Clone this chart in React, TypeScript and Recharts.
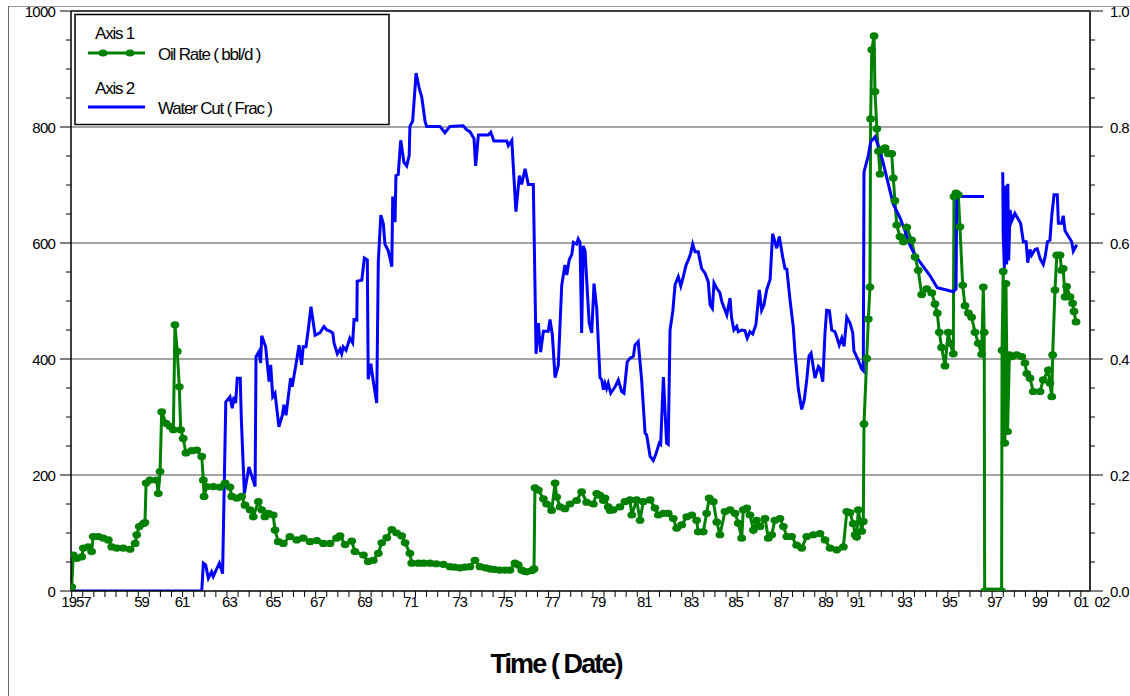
import React from 'react';
import { ComposedChart, Line, XAxis, YAxis, ReferenceLine } from 'recharts';

const FONT = '"Liberation Sans", Arial, sans-serif';

// Oil rate (bbl/d), left axis
const OIL_YEAR = [
  1957.03, 1957.10, 1957.25, 1957.47, 1957.54, 1957.76, 1957.90, 1957.97, 1958.19, 1958.41,
  1958.63, 1958.78, 1959.00, 1959.28, 1959.58, 1959.80, 1959.87, 1959.98, 1960.16, 1960.23,
  1960.28, 1960.45, 1960.74, 1960.81, 1960.89, 1960.96, 1961.15, 1961.32, 1961.47, 1961.54,
  1961.64, 1961.73, 1961.79, 1961.90, 1962.02, 1962.27, 1962.49, 1962.71, 1962.78, 1962.81,
  1962.93, 1963.21, 1963.51, 1963.73, 1963.94, 1964.02, 1964.24, 1964.45, 1964.60, 1964.82,
  1964.96, 1965.18, 1965.33, 1965.47, 1965.62, 1965.83, 1965.91, 1966.05, 1966.27, 1966.56,
  1966.86, 1967.14, 1967.44, 1967.73, 1968.02, 1968.31, 1968.60, 1968.75, 1968.97, 1969.26,
  1969.40, 1969.77, 1969.98, 1970.20, 1970.42, 1970.57, 1970.79, 1971.01, 1971.22, 1971.44,
  1971.59, 1971.80, 1971.88, 1972.17, 1972.40, 1972.68, 1972.95, 1973.26, 1973.55, 1973.75,
  1973.99, 1974.20, 1974.42, 1974.64, 1974.86, 1975.10, 1975.30, 1975.50, 1975.73, 1975.95,
  1976.17, 1976.39, 1976.53, 1976.68, 1976.80, 1976.90, 1977.12, 1977.22, 1977.26, 1977.41,
  1977.63, 1977.77, 1977.99, 1978.14, 1978.21, 1978.36, 1978.57, 1978.79, 1979.08, 1979.30,
  1979.52, 1979.81, 1979.96, 1980.10, 1980.25, 1980.32, 1980.46, 1980.54, 1980.68, 1980.97,
  1981.19, 1981.41, 1981.49, 1981.70, 1981.85, 1981.99, 1982.29, 1982.50, 1982.65, 1982.87,
  1983.08, 1983.30, 1983.45, 1983.67, 1983.89, 1984.11, 1984.32, 1984.39, 1984.61, 1984.76,
  1984.87, 1985.05, 1985.20, 1985.34, 1985.56, 1985.78, 1986.00, 1986.14, 1986.29, 1986.36,
  1986.51, 1986.65, 1986.80, 1986.94, 1987.09, 1987.31, 1987.45, 1987.60, 1987.74, 1987.96,
  1988.11, 1988.26, 1988.47, 1988.69, 1988.91, 1989.13, 1989.42, 1989.71, 1989.93, 1990.15,
  1990.44, 1990.73, 1990.88, 1991.02, 1991.16, 1991.24, 1991.31, 1991.38, 1991.53, 1991.60,
  1991.63, 1991.75, 1991.82, 1991.89, 1991.92, 1991.97, 1992.07, 1992.11, 1992.19, 1992.26,
  1992.33, 1992.40, 1992.55, 1992.69, 1992.84, 1992.91, 1992.98, 1993.06, 1993.20, 1993.35,
  1993.50, 1993.71, 1993.86, 1994.00, 1994.15, 1994.37, 1994.59, 1994.73, 1994.83, 1994.92,
  1995.02, 1995.17, 1995.31, 1995.39, 1995.53, 1995.56, 1995.65, 1995.75, 1995.82, 1995.94,
  1996.04, 1996.19, 1996.33, 1996.48, 1996.62, 1996.77, 1996.84, 1996.88, 1996.90, 1997.05,
  1997.22, 1997.39, 1997.57, 1997.64, 1997.66, 1997.71, 1997.78, 1997.83, 1997.90, 1997.98,
  1998.08, 1998.30, 1998.52, 1998.66, 1998.74, 1998.88, 1999.02, 1999.32, 1999.46, 1999.68,
  1999.75, 1999.83, 1999.87, 1999.97, 2000.05, 2000.19, 2000.26, 2000.33, 2000.41, 2000.48,
  2000.63, 2000.74, 2000.80, 2000.89,
];
const OIL_RATE = [
  7, 62, 56, 59, 74, 76, 68, 94, 94, 91,
  88, 76, 74, 74, 72, 82, 97, 111, 116, 118,
  186, 191, 191, 168, 206, 309, 289, 284, 278, 459,
  413, 352, 278, 263, 238, 242, 243, 232, 191, 163,
  180, 180, 179, 186, 179, 163, 160, 163, 148, 140,
  128, 154, 140, 128, 134, 131, 105, 85, 82, 94,
  88, 91, 85, 87, 82, 82, 91, 95, 80, 86,
  68, 62, 51, 53, 65, 83, 92, 106, 100, 95,
  83, 65, 48, 48, 48, 48, 47, 46, 42, 41,
  40, 41, 42, 53, 42, 40, 38, 37, 36, 36,
  36, 48, 45, 36, 34, 33, 35, 38, 178, 174,
  159, 150, 139, 186, 162, 145, 142, 150, 156, 171,
  153, 150, 168, 165, 156, 160, 145, 139, 140, 145,
  154, 157, 131, 157, 122, 154, 157, 143, 131, 134,
  134, 125, 108, 114, 128, 131, 122, 102, 102, 134,
  160, 154, 119, 97, 137, 140, 134, 117, 91, 140,
  143, 131, 105, 122, 111, 125, 91, 97, 122, 125,
  111, 94, 94, 79, 74, 94, 97, 99, 88, 74,
  71, 76, 137, 135, 116, 97, 93, 140, 103, 120,
  288, 401, 469, 524, 814, 933, 957, 861, 797, 758,
  719, 761, 764, 754, 754, 712, 673, 631, 611, 602,
  627, 605, 576, 553, 511, 521, 514, 495, 479, 446,
  420, 388, 446, 427, 409, 680, 686, 683, 628, 527,
  492, 479, 472, 446, 427, 408, 524, 446, 0, 0,
  0, 0, 0, 0, 415, 551, 255, 530, 275, 407,
  404, 407, 404, 393, 375, 367, 344, 344, 364, 381,
  358, 335, 407, 519, 579, 579, 553, 556, 507, 525,
  507, 496, 482, 464,
];

// Water cut (fraction), right axis; null = no data
const WC_YEAR = [
  1957.00, 1962.71, 1962.78, 1962.88, 1963.00, 1963.14, 1963.21, 1963.48, 1963.62, 1963.76,
  1963.94, 1964.04, 1964.12, 1964.19, 1964.26, 1964.39, 1964.44, 1964.57, 1964.77, 1965.04,
  1965.08, 1965.21, 1965.28, 1965.33, 1965.50, 1965.65, 1965.72, 1965.81, 1965.91, 1966.08,
  1966.23, 1966.30, 1966.39, 1966.59, 1966.66, 1966.88, 1966.96, 1967.07, 1967.14, 1967.26,
  1967.36, 1967.48, 1967.66, 1967.87, 1968.05, 1968.17, 1968.31, 1968.43, 1968.49, 1968.63,
  1968.75, 1968.82, 1968.89, 1969.01, 1969.18, 1969.30, 1969.36, 1969.48, 1969.50, 1969.70,
  1969.81, 1969.94, 1969.98, 1970.09, 1970.20, 1970.35, 1970.42, 1970.53, 1970.64, 1970.71,
  1970.86, 1971.01, 1971.05, 1971.15, 1971.19, 1971.29, 1971.40, 1971.54, 1971.66, 1971.77,
  1971.80, 1971.92, 1972.07, 1972.21, 1972.32, 1972.46, 1972.53, 1973.11, 1973.33, 1973.55,
  1974.13, 1974.28, 1974.42, 1974.60, 1974.67, 1974.79, 1975.22, 1975.33, 1975.47, 1976.03,
  1976.10, 1976.25, 1976.43, 1976.58, 1976.68, 1976.83, 1976.97, 1977.19, 1977.31, 1977.41,
  1977.51, 1977.63, 1977.84, 1977.92, 1978.02, 1978.14, 1978.28, 1978.43, 1978.57, 1978.65,
  1978.76, 1978.87, 1978.94, 1979.08, 1979.15, 1979.23, 1979.30, 1979.37, 1979.45, 1979.55,
  1979.63, 1979.74, 1979.84, 1979.96, 1980.10, 1980.18, 1980.25, 1980.32, 1980.39, 1980.46,
  1980.57, 1980.76, 1980.90, 1981.05, 1981.15, 1981.29, 1981.41, 1981.56, 1981.63, 1981.77,
  1981.92, 1982.07, 1982.14, 1982.29, 1982.43, 1982.55, 1982.69, 1982.75, 1982.87, 1983.01,
  1983.08, 1983.16, 1983.28, 1983.38, 1983.52, 1983.63, 1983.74, 1983.86, 1983.96, 1984.06,
  1984.15, 1984.25, 1984.39, 1984.54, 1984.69, 1984.83, 1984.91, 1985.01, 1985.08, 1985.20,
  1985.34, 1985.42, 1985.64, 1985.78, 1985.85, 1985.95, 1986.07, 1986.14, 1986.29, 1986.43,
  1986.53, 1986.65, 1986.77, 1986.91, 1987.06, 1987.16, 1987.26, 1987.38, 1987.53, 1987.64,
  1987.82, 1987.93, 1988.08, 1988.18, 1988.26, 1988.40, 1988.54, 1988.62, 1988.76, 1988.91,
  1989.02, 1989.13, 1989.23, 1989.32, 1989.49, 1989.64, 1989.71, 1989.83, 1989.93, 1990.00,
  1990.12, 1990.22, 1990.36, 1990.44, 1990.55, 1990.66, 1990.76, 1990.88, 1991.02, 1991.14,
  1991.19, 1991.38, 1991.53, 1991.60, 1991.63, 1991.82, 1991.92, 1992.11, 1992.26, 1992.47,
  1992.77, 1992.91, 1993.20, 1993.42, 1993.64, 1993.86, 1994.15, 1994.51, 1994.83, 1995.24,
  1995.53, 1995.65, 1995.68, 1995.97, 1996.87, 1997.30, 1997.69, 1997.71, 1997.76, 1997.83,
  1997.86, 1997.91, 1997.95, 1998.01, 1998.08, 1998.22, 1998.37, 1998.47, 1998.59, 1998.71,
  1998.78, 1998.88, 1998.95, 1999.10, 1999.20, 1999.32, 1999.46, 1999.54, 1999.64, 1999.75,
  1999.83, 1999.93, 2000.07, 2000.12, 2000.26, 2000.33, 2000.41, 2000.55, 2000.70, 2000.77,
  2000.92,
];
const WC_FRAC = [
  0, 0, 0.048, 0.045, 0.022, 0.033, 0.025, 0.048, 0.030, 0.326,
  0.335, 0.315, 0.335, 0.324, 0.367, 0.367, 0.295, 0.168, 0.214, 0.180,
  0.404, 0.413, 0.393, 0.440, 0.421, 0.361, 0.390, 0.335, 0.341, 0.283,
  0.303, 0.321, 0.303, 0.367, 0.352, 0.404, 0.424, 0.390, 0.421, 0.421,
  0.450, 0.490, 0.441, 0.445, 0.456, 0.450, 0.448, 0.445, 0.427, 0.409,
  0.417, 0.409, 0.421, 0.415, 0.436, 0.428, 0.468, 0.467, 0.534, 0.536,
  0.574, 0.571, 0.365, 0.392, 0.362, 0.324, 0.568, 0.648, 0.633, 0.598,
  0.586, 0.559, 0.680, 0.636, 0.716, 0.718, 0.777, 0.739, 0.733, 0.751,
  0.801, 0.810, 0.893, 0.866, 0.851, 0.810, 0.801, 0.801, 0.790, 0.801,
  0.802, 0.795, 0.792, 0.780, 0.733, 0.786, 0.786, 0.791, 0.776, 0.776,
  0.768, 0.777, 0.654, 0.716, 0.701, 0.728, 0.701, 0.701, 0.409, 0.462,
  0.412, 0.448, 0.448, 0.468, 0.442, 0.368, 0.389, 0.527, 0.562, 0.545,
  0.571, 0.580, 0.601, 0.598, 0.607, 0.601, 0.445, 0.595, 0.586, 0.515,
  0.462, 0.445, 0.530, 0.486, 0.368, 0.364, 0.347, 0.358, 0.349, 0.358,
  0.341, 0.352, 0.364, 0.344, 0.341, 0.395, 0.401, 0.405, 0.424, 0.430,
  0.364, 0.272, 0.269, 0.232, 0.225, 0.237, 0.255, 0.253, 0.369, 0.255,
  0.253, 0.450, 0.482, 0.528, 0.542, 0.526, 0.542, 0.562, 0.571, 0.582,
  0.598, 0.585, 0.585, 0.556, 0.548, 0.533, 0.493, 0.487, 0.531, 0.522,
  0.514, 0.499, 0.476, 0.505, 0.470, 0.450, 0.456, 0.447, 0.450, 0.449,
  0.436, 0.447, 0.443, 0.459, 0.519, 0.484, 0.493, 0.519, 0.537, 0.616,
  0.591, 0.611, 0.576, 0.556, 0.555, 0.502, 0.456, 0.410, 0.349, 0.313,
  0.329, 0.364, 0.405, 0.410, 0.367, 0.387, 0.384, 0.361, 0.447, 0.484,
  0.483, 0.450, 0.447, 0.438, 0.424, 0.436, 0.422, 0.472, 0.462, 0.445,
  0.414, 0.398, 0.383, 0.380, 0.722, 0.751, 0.774, 0.783, 0.767, 0.738,
  0.689, 0.667, 0.644, 0.621, 0.596, 0.579, 0.563, 0.544, 0.523, 0.519,
  0.516, 0.521, 0.680, 0.680, 0.680, null, 0.722, 0.615, 0.557, 0.699,
  0.563, 0.702, 0.570, 0.657, 0.638, 0.651, 0.641, 0.634, 0.602, 0.602,
  0.566, 0.589, 0.579, 0.589, 0.590, 0.573, 0.563, 0.576, 0.602, 0.605,
  0.647, 0.683, 0.683, 0.634, 0.634, 0.647, 0.621, 0.612, 0.602, 0.586,
  0.597,
];

// Time axis labels, placed where the original prints them
const X_LABEL_YEAR = [
  1957.22, 1960.08, 1961.85, 1963.92, 1965.82, 1967.76, 1969.82, 1971.83, 1973.97, 1975.95,
  1978.0, 1980.01, 1982.04, 1984.08, 1986.02, 1988.01, 1989.95, 1991.33, 1993.4, 1995.36,
  1997.33, 1999.29, 2001.11, 2002.02,
];
const X_LABEL_TEXT = [
  '1957', '59', '61', '63', '65', '67', '69', '71', '73', '75',
  '77', '79', '81', '83', '85', '87', '89', '91', '93', '95',
  '97', '99', '01', '02',
];

const OIL_GRID = [200, 400, 600, 800];

const oilData = OIL_YEAR.map((t, i) => ({ t, oil: OIL_RATE[i] }));
const wcData = WC_YEAR.map((t, i) => ({ t, wc: WC_FRAC[i] }));

const MINOR_X = Array.from({ length: 92 }, (_, k) => +(1957.03 + k * 0.4843).toFixed(4));
const MINOR_SET = new Set(MINOR_X);
const LABEL_MAP = new Map(X_LABEL_YEAR.map((v, i) => [v, X_LABEL_TEXT[i]]));
const X_TICKS = Array.from(new Set([...MINOR_X, ...X_LABEL_YEAR])).sort((a, b) => a - b);
const OIL_TICKS = Array.from({ length: 21 }, (_, i) => i * 50);
const WC_TICKS = Array.from({ length: 21 }, (_, i) => +(i * 0.05).toFixed(2));

const GREEN = '#008000';
const BLUE = '#0000ff';

const TimeTick = (props: any) => {
  const { x, y, payload } = props;
  const v = payload.value;
  const label = LABEL_MAP.get(v);
  return (
    <g>
      {MINOR_SET.has(v) && <line x1={x} x2={x} y1={y} y2={y + 6} stroke="#000" strokeWidth={1} />}
      {label && (
        <text x={x} y={y + 10} textAnchor="middle" dominantBaseline="central"
          fontFamily={FONT} fontSize={15} letterSpacing={-1} fill="#000">{label}</text>
      )}
    </g>
  );
};

const OilTick = (props: any) => {
  const { x, y, payload } = props;
  const v = payload.value;
  const major = v % 200 === 0;
  return (
    <g>
      <line x1={x - (major ? 11 : 5)} x2={x} y1={y} y2={y} stroke="#000" strokeWidth={1} />
      {major && (
        <text x={x - 16} y={y} textAnchor="end" dominantBaseline="central"
          fontFamily={FONT} fontSize={15} letterSpacing={-0.8} fill="#000">{v}</text>
      )}
    </g>
  );
};

const WcTick = (props: any) => {
  const { x, y, payload } = props;
  const v = payload.value;
  const major = Math.round(v * 100) % 20 === 0;
  return (
    <g>
      <line x1={x} x2={x + (major ? 13 : 5)} y1={y} y2={y} stroke="#000" strokeWidth={1} />
      {major && (
        <text x={x + 20} y={y} textAnchor="start" dominantBaseline="central"
          fontFamily={FONT} fontSize={15} letterSpacing={-0.6} fill="#000">{v.toFixed(1)}</text>
      )}
    </g>
  );
};

// oval marker like the original plotting package
const OilDot = (props: any) => {
  const { cx, cy, index } = props;
  if (cx == null || cy == null) return <g key={index} />;
  return <ellipse key={index} cx={cx} cy={cy} rx={4.4} ry={3.6} fill={GREEN} />;
};

const LegendAndTitle = () => (
  <svg width={1130} height={696} style={{ position: 'absolute', left: 0, top: 0, pointerEvents: 'none' }}>
    <line x1={8} x2={1130} y1={6.5} y2={6.5} stroke="#999" strokeWidth={1} />
    <line x1={8.5} x2={8.5} y1={6} y2={696} stroke="#666" strokeWidth={1} />
    <rect x={75} y={14.5} width={314} height={110} fill="#fff" stroke="#000" strokeWidth={1.5} />
    <g fontFamily={FONT} fontSize={17} letterSpacing={-1.2} fill="#000">
      <text x={95} y={33} dominantBaseline="central">Axis 1</text>
      <line x1={88} x2={145} y1={53} y2={53} stroke={GREEN} strokeWidth={3} />
      <ellipse cx={103} cy={53} rx={4.4} ry={3.6} fill={GREEN} />
      <ellipse cx={130} cy={53} rx={4.4} ry={3.6} fill={GREEN} />
      <text x={158} y={54} dominantBaseline="central">Oil Rate ( bbl/d )</text>
      <text x={95} y={88} dominantBaseline="central">Axis 2</text>
      <line x1={88} x2={145} y1={107} y2={107} stroke={BLUE} strokeWidth={3} />
      <text x={158} y={108} dominantBaseline="central">Water Cut ( Frac )</text>
    </g>
    <text x={556} y={664} textAnchor="middle" dominantBaseline="central" fontFamily={FONT}
      fontSize={27} fontWeight="bold" letterSpacing={-1.9} fill="#000">Time ( Date)</text>
  </svg>
);

export default function App() {
  return (
    <div style={{ position: 'absolute', left: 0, top: 0, width: 1130, height: 696, background: '#fff' }}>
      <ComposedChart width={1130} height={696} margin={{ top: 11, right: 0, bottom: 45, left: 0 }}>
        <XAxis xAxisId="t" type="number" dataKey="t" domain={[1957, 2001.5]} ticks={X_TICKS}
          interval={0} tick={(p: any) => <TimeTick {...p} />} tickLine={false} tickSize={0} tickMargin={0}
          height={60} axisLine={{ stroke: '#000', strokeWidth: 1.5 }} allowDataOverflow />
        <YAxis yAxisId="oil" orientation="left" width={71} type="number" domain={[0, 1000]}
          ticks={OIL_TICKS} interval={0} tick={(p: any) => <OilTick {...p} />} tickLine={false}
          tickSize={0} tickMargin={0} axisLine={{ stroke: '#000', strokeWidth: 1.5 }} allowDataOverflow />
        <YAxis yAxisId="wc" orientation="right" width={40} type="number" domain={[0, 1]}
          ticks={WC_TICKS} interval={0} tick={(p: any) => <WcTick {...p} />} tickLine={false}
          tickSize={0} tickMargin={0} axisLine={{ stroke: '#333', strokeWidth: 2 }} allowDataOverflow />
        {OIL_GRID.map((v) => (
          <ReferenceLine key={v} xAxisId="t" yAxisId="oil" y={v} stroke="#4d4d4d" strokeWidth={1.2} />
        ))}
        <ReferenceLine xAxisId="t" yAxisId="oil" y={1000} stroke="#000" strokeWidth={1.5} />
        <Line xAxisId="t" yAxisId="oil" data={oilData} dataKey="oil" type="linear"
          stroke={GREEN} strokeWidth={3} dot={(p: any) => <OilDot {...p} />}
          activeDot={false} isAnimationActive={false} />
        <Line xAxisId="t" yAxisId="wc" data={wcData} dataKey="wc" type="linear"
          stroke={BLUE} strokeWidth={3} dot={false} activeDot={false}
          connectNulls={false} isAnimationActive={false} />
      </ComposedChart>
      <LegendAndTitle />
    </div>
  );
}
